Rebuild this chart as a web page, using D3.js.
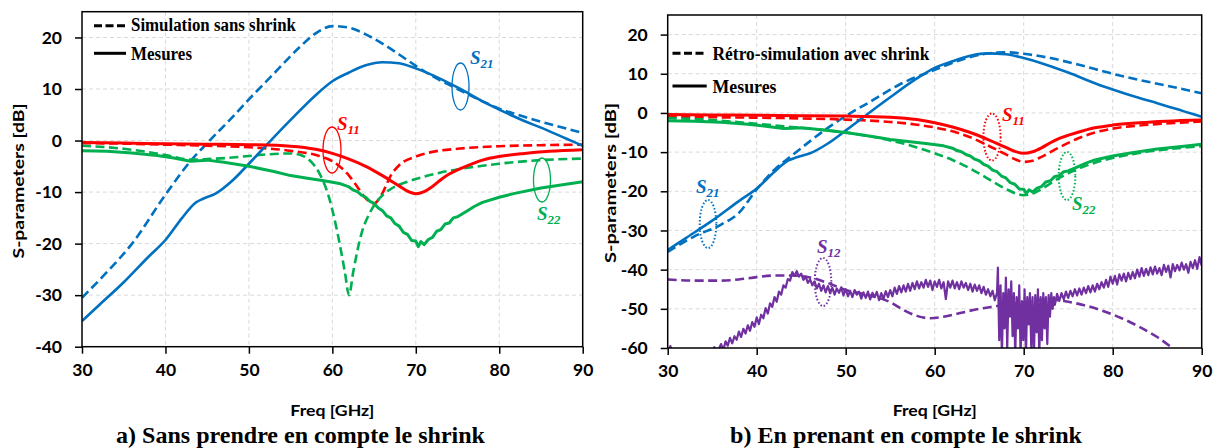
<!DOCTYPE html>
<html>
<head>
<meta charset="utf-8">
<script src="https://cdn.jsdelivr.net/npm/d3@7"></script>
<style>
  html, body { margin: 0; padding: 0; background: #fff; }
  svg { display: block; }
</style>
</head>
<body>
<svg id="chart" width="1217" height="448"></svg>
<script>
// ---------- DATA ----------
const xTicks = [30, 40, 50, 60, 70, 80, 90];
const yTicksA = [-40, -30, -20, -10, 0, 10, 20];
const yTicksB = [-60, -50, -40, -30, -20, -10, 0, 10, 20];

// Measured (shared by both panels)
const s21Meas = [[30,-35],[32,-32],[35,-27.5],[38,-22.5],[40,-19.3],[42,-15],[43.5,-12.2],[44.5,-11.3],[46,-10.3],[48,-7.8],[50,-4.5],[52.5,-0.2],[55,4],[58,8.8],[60,11.5],[62,13.2],[64,14.6],[66,15.2],[68,15],[70,14],[72,12.7],[75,10.3],[78,7.6],[80,6],[83,3.8],[85,2.5],[88,0.4],[90,-1]];
const s11Meas = [[30,-0.4],[35,-0.5],[40,-0.6],[45,-0.7],[50,-0.8],[55,-1.1],[58,-1.7],[60,-2.5],[62,-3.6],[64,-5],[66,-6.8],[68,-8.8],[69,-9.8],[70,-10.3],[71,-9.9],[72,-8.9],[73,-7.6],[74,-6.5],[76,-5],[78,-3.8],[80,-3.1],[83,-2.5],[86,-2.1],[90,-1.8]];
const s22Meas = [[30,-2],[33,-2.1],[36,-2.4],[39,-2.9],[41,-3.4],[43,-4],[44,-3.9],[45,-3.8],[47,-4.2],[50,-5],[53,-6],[55,-6.8],[57,-7.3],[59,-7.8],[61,-8.4],[62,-9],[62.5,-9.6],[63,-9.9],[63.5,-10.6],[64,-11],[64.5,-11.8],[65,-12.2],[65.5,-13.1],[66,-13.6],[66.5,-14.6],[67,-15],[67.5,-16.1],[68,-16.6],[68.5,-17.8],[69,-18.2],[69.5,-19.4],[70,-19.5],[70.3,-20.6],[70.6,-19.6],[71,-20.2],[71.5,-19.2],[72,-18.8],[72.5,-17.6],[73,-17.3],[73.5,-16.2],[74,-16],[74.5,-15],[75,-14.8],[76,-13.8],[77,-12.8],[78,-12],[80,-11],[82,-10.2],[85,-9.2],[88,-8.5],[90,-8]];
const s12Meas = [[30,-62],[30.3,-59.5],[30.6,-62],[31,-63],[32,-64],[33,-63],[34,-62],[34.5,-60.5],
[35,-61.5],[35.25,-59.8],[35.5,-61],[35.75,-60.2],[36,-59],[36.25,-60.6],[36.5,-58.3],[36.75,-59.4],[37,-57.4],[37.25,-58.8],[37.5,-57],[37.75,-57.9],[38,-55.8],[38.25,-57.2],[38.5,-55.1],[38.75,-56.3],[39,-54.2],[39.25,-55.6],[39.5,-53.4],[39.75,-54.6],[40,-52.2],[40.25,-53.9],[40.5,-51.5],[40.75,-52.4],[41,-49.8],[41.25,-51.2],[41.5,-48.6],[41.75,-49.5],[42,-47],[42.25,-48.2],[42.5,-45.6],[42.75,-46.4],[43,-44],[43.25,-44.6],[43.5,-42.4],[43.75,-42.8],[44,-40.6],[44.25,-41.6],[44.5,-40.4],[44.75,-41.8],[45,-41],[45.25,-42.6],[45.5,-41.8],[45.75,-43.4],[46,-42.5],[46.25,-44],[46.5,-43],[46.75,-44.8],[47,-43.6],[47.25,-45.4],[47.5,-44],[47.75,-45.8],[48,-44.2],[48.25,-46],[48.5,-44.6],[48.75,-46.4],[49,-44.8],[49.25,-45.9],[49.5,-44.5],[49.75,-46.6],[50,-45],[50.25,-46.8],[50.5,-45.4],[50.75,-47],[51,-45.2],[51.25,-46.4],[51.5,-45.6],[51.75,-47.4],[52,-45.8],[52.25,-47.2],[52.5,-45.6],[52.75,-47.6],[53,-45.9],[53.25,-47],[53.5,-45.7],[53.75,-47.8],[54,-46],[54.25,-47.4],[54.5,-45.5],[54.75,-47],[55,-45.2],[55.25,-46.8],[55.5,-44.6],[55.75,-46.2],[56,-44.2],[56.25,-45.8],[56.5,-44],[56.75,-45.6],[57,-43.6],[57.25,-45.4],[57.5,-43.4],[57.75,-45],[58,-43],[58.25,-44.8],[58.5,-43.2],[58.75,-44.6],[59,-42.6],[59.25,-44.4],[59.5,-42.8],[59.75,-45.2],[60,-43],[60.25,-44.4],[60.5,-42.6],[60.75,-44.8],[61,-43.2],[61.25,-47.5],[61.5,-43],[61.75,-44.6],[62,-42.8],[62.25,-44.8],[62.5,-43.2],[62.75,-45],[63,-43],[63.25,-44.6],[63.5,-43.4],[63.75,-45.2],[64,-43.6],[64.25,-45.6],[64.5,-43.8],[64.75,-45.4],[65,-44],[65.25,-46],[65.5,-44.4],[65.75,-46.4],[66,-45],[66.25,-46.8],[66.5,-45.4],[66.75,-47.8],[67,-46],
[67.1,-39.5],[67.25,-58],[67.4,-44],[67.55,-62],[67.7,-46],[67.85,-55],[68,-42],[68.15,-60],[68.3,-45],[68.45,-52],[68.6,-43],[68.75,-57],[68.9,-46],[69.05,-62],[69.2,-47],[69.35,-55],[69.5,-44],[69.65,-62],[69.8,-48],[69.95,-58],[70.1,-45],[70.25,-62],[70.4,-47],[70.55,-54],[70.7,-46],[70.85,-60],[71,-47],[71.15,-62],[71.3,-46.5],[71.45,-56],[71.6,-45],[71.75,-62],[71.9,-47],[72.05,-58],[72.2,-46],[72.35,-55],[72.5,-47],[72.65,-59],[72.8,-46.5],[72.95,-52],[73.1,-46],[73.25,-50],[73.4,-47],[73.5,-49],
[73.75,-46.2],[74,-48],[74.25,-46],[74.5,-47.6],[74.75,-45.6],[75,-47.2],[75.25,-45.4],[75.5,-46.8],[75.75,-45],[76,-46.6],[76.25,-44.8],[76.5,-46.4],[76.75,-44.6],[77,-46],[77.25,-44.2],[77.5,-45.8],[77.75,-44],[78,-45.6],[78.25,-43.6],[78.5,-45],[78.75,-43.2],[79,-44.6],[79.25,-42.6],[79.5,-44.4],[79.75,-41.8],[80,-43.6],[80.25,-41.6],[80.5,-43.8],[80.75,-41.2],[81,-42.8],[81.25,-41],[81.5,-43],[81.75,-40.8],[82,-42.4],[82.25,-40.6],[82.5,-42.2],[82.75,-40],[83,-41.8],[83.25,-39.6],[83.5,-41.6],[83.75,-39.8],[84,-41.4],[84.25,-39.4],[84.5,-41.2],[84.75,-39.2],[85,-41],[85.25,-39.6],[85.5,-41.4],[85.75,-38.8],[86,-40.6],[86.25,-39],[86.5,-42],[86.75,-38.6],[87,-40.4],[87.25,-38.8],[87.5,-40.2],[87.75,-38.2],[88,-40],[88.25,-38.6],[88.5,-40.8],[88.75,-38],[89,-39.6],[89.25,-37.6],[89.5,-39.8],[89.75,-36.8],[90,-39]];

// Panel a) simulation without shrink
const s21SimA = [[30,-30.5],[33,-25.5],[36,-20],[40,-10.5],[43,-4],[45,-0.5],[48,4.5],[50,8],[53,13],[56,18],[58,20.8],[60,22.2],[62,21.9],[64,20.6],[66,18.8],[68,16.7],[70,14.5],[72,12.5],[75,10],[78,7.6],[80,6.2],[83,4.6],[86,3.2],[90,1.5]];
const s11SimA = [[30,-0.5],[35,-0.6],[40,-0.8],[45,-1],[50,-1.3],[55,-2],[58,-2.8],[60,-4],[62,-6.8],[63,-9],[64,-11.2],[65,-12.2],[66,-10.2],[67,-6.8],[68,-4.8],[70,-3.1],[72,-2.2],[75,-1.6],[80,-1.1],[85,-0.9],[90,-0.8]];
const s22SimA = [[30,-1],[35,-1.6],[40,-2.8],[43,-3.7],[45,-3.6],[48,-3.3],[50,-3],[53,-2.6],[55,-2.5],[56.5,-3],[57.5,-4.2],[58.5,-6.5],[59.5,-10.5],[60.5,-17],[61.5,-25.5],[62,-30],[62.5,-25.5],[63.5,-18],[64.5,-14],[65.5,-11.5],[67,-9.4],[69,-8],[71,-7],[73,-6.2],[75,-5.6],[78,-4.9],[80,-4.5],[85,-3.8],[90,-3.5]];

// Panel b) retro-simulation with shrink
const s21SimB = [[30,-35.5],[33,-31.5],[36,-28.5],[38,-25.5],[40,-19.5],[42,-14.5],[44,-10.8],[46,-7.2],[48,-3.8],[50,-0.8],[53,3.2],[56,7.2],[60,11],[63,13.6],[66,15.2],[68,15.5],[70,15.1],[73,14],[76,12.4],[80,10],[83,8.4],[86,7],[90,5]];
const s11SimB = [[30,-1],[35,-1.1],[40,-1.2],[45,-1.4],[50,-1.7],[55,-2.3],[58,-3],[60,-3.7],[62,-4.7],[64,-6.2],[66,-8.3],[68,-10.6],[69,-11.8],[70,-12.5],[71,-12.2],[72,-11.2],[74,-8.8],[76,-6.6],[78,-5],[80,-4],[83,-3.2],[86,-2.7],[90,-2.2]];
const s22SimB = [[30,-1.3],[35,-1.8],[40,-2.8],[45,-3.8],[50,-5],[55,-7],[58,-8.8],[60,-10.3],[62,-12],[64,-14.2],[66,-16.8],[68,-19.4],[70,-21],[71,-20.6],[72,-19.4],[74,-16.6],[76,-14.4],[78,-12.7],[80,-11.5],[83,-10.2],[86,-9.3],[90,-8.5]];
const s12SimB = [[30,-42.5],[33,-42.8],[36,-42.8],[38,-42.5],[40,-41.9],[42,-41.5],[44,-41.5],[46,-42],[48,-43.4],[50,-45.2],[52,-46.2],[54,-47.4],[55,-48.3],[56.5,-50.3],[58,-51.8],[59.5,-52.4],[61,-52],[63,-51],[65,-50],[67,-49.3],[69,-48.6],[71,-48],[73,-47.6],[75,-48.2],[77,-49.2],[79,-50.6],[81,-52.4],[83,-54.6],[85,-57.2],[87,-60.5],[88.5,-63],[90,-65.5]];

// ---------- DRAW ----------
const COL = { blue: "#0070C0", red: "#FF0000", green: "#00B050", purple: "#7030A0" };
const svg = d3.select("#chart");
svg.append("rect").attr("width", 1217).attr("height", 448).attr("fill", "#fff");

const TICK_FONT = "Lato, 'Open Sans', sans-serif";
const SERIF = "'Liberation Serif', 'DejaVu Serif', serif";
const fmt = d => String(d);

function drawPanel(cfg) {
  const x = d3.scaleLinear().domain([30, 90]).range([cfg.left, cfg.right]);
  const y = d3.scaleLinear().domain(cfg.yDomain).range([cfg.bottom, cfg.top]);
  const g = svg.append("g");

  // grid
  g.append("g").selectAll("line").data(xTicks.slice(1, -1)).join("line")
    .attr("x1", d => x(d)).attr("x2", d => x(d))
    .attr("y1", cfg.top).attr("y2", cfg.bottom)
    .attr("stroke", "#d9d9d9").attr("stroke-width", 1).attr("stroke-dasharray", "4,3");
  g.append("g").selectAll("line").data(cfg.yTicks.slice(1)).join("line")
    .attr("x1", cfg.left).attr("x2", cfg.right)
    .attr("y1", d => y(d)).attr("y2", d => y(d))
    .attr("stroke", "#d9d9d9").attr("stroke-width", 1).attr("stroke-dasharray", "4,3");

  // axes
  const xa = g.append("g").attr("transform", `translate(0,${cfg.bottom})`)
    .call(d3.axisBottom(x).tickValues(xTicks).tickSize(7).tickPadding(10).tickFormat(fmt));
  const ya = g.append("g").attr("transform", `translate(${cfg.left},0)`)
    .call(d3.axisLeft(y).tickValues(cfg.yTicks).tickSize(7).tickPadding(13).tickFormat(fmt));
  [xa, ya].forEach(a => {
    a.select(".domain").remove();
    a.selectAll(".tick line").attr("stroke", "#000").attr("stroke-width", 1.5);
    a.selectAll(".tick text").attr("font-family", TICK_FONT).attr("font-weight", "bold")
      .attr("font-size", 17.5).attr("fill", "#000");
  });

  // clip
  const cid = "clip" + cfg.id;
  svg.append("defs").append("clipPath").attr("id", cid).append("rect")
    .attr("x", cfg.left).attr("y", cfg.top).attr("width", cfg.right - cfg.left).attr("height", cfg.bottom - cfg.top);
  const plot = g.append("g").attr("clip-path", `url(#${cid})`);

  const smooth = d3.line().x(d => x(d[0])).y(d => y(d[1])).curve(d3.curveMonotoneX);
  const straight = d3.line().x(d => x(d[0])).y(d => y(d[1]));

  cfg.series.forEach(s => {
    plot.append("path").datum(s.data)
      .attr("d", s.noisy ? straight : smooth)
      .attr("fill", "none").attr("stroke", s.color)
      .attr("stroke-width", s.width || 2.6)
      .attr("stroke-linejoin", "round")
      .attr("stroke-dasharray", s.dashed ? "9,4.5" : null);
  });

  // border
  g.append("rect").attr("x", cfg.left).attr("y", cfg.top)
    .attr("width", cfg.right - cfg.left).attr("height", cfg.bottom - cfg.top)
    .attr("fill", "none").attr("stroke", "#000").attr("stroke-width", 1.5);

  // legend
  const lg = g.append("g");
  cfg.legend.forEach(l => {
    lg.append("line").attr("x1", l.x1).attr("x2", l.x2).attr("y1", l.ly).attr("y2", l.ly)
      .attr("stroke", "#000").attr("stroke-width", 3).attr("stroke-dasharray", l.dashed ? "8,3.5" : null);
    lg.append("text").attr("x", l.tx).attr("y", l.ty).text(l.label)
      .attr("font-family", SERIF).attr("font-weight", "bold").attr("font-size", 18)
      .attr("textLength", l.len).attr("lengthAdjust", "spacingAndGlyphs").attr("fill", "#000");
  });

  // annotations
  cfg.notes.forEach(n => {
    g.append("ellipse").attr("cx", n.cx).attr("cy", n.cy).attr("rx", n.rx).attr("ry", n.ry)
      .attr("fill", "none").attr("stroke", n.color).attr("stroke-width", n.dotted ? 2 : 1.3)
      .attr("stroke-dasharray", n.dotted ? "1.5,2" : null);
    const t = g.append("text").attr("x", n.tx).attr("y", n.ty).attr("fill", n.color)
      .attr("font-family", SERIF).attr("font-weight", "bold").attr("font-style", "italic").attr("font-size", 19);
    t.append("tspan").text("S");
    t.append("tspan").text(n.sub).attr("font-size", 13).attr("dy", 4);
  });

  // axis titles
  g.append("text").attr("x", (cfg.left + cfg.right) / 2).attr("y", 416).attr("text-anchor", "middle")
    .text("Freq [GHz]").attr("font-family", TICK_FONT).attr("font-weight", "bold").attr("font-size", 15.5)
    .attr("textLength", 84).attr("lengthAdjust", "spacingAndGlyphs");
  g.append("text").attr("transform", `translate(${cfg.ytX},${cfg.ytY}) rotate(-90)`).attr("text-anchor", "middle")
    .text("S-parameters [dB]").attr("font-family", TICK_FONT).attr("font-weight", "bold").attr("font-size", 16)
    .attr("textLength", cfg.ytLen).attr("lengthAdjust", "spacingAndGlyphs");

  // caption
  g.append("text").attr("x", cfg.capX).attr("y", 443).attr("text-anchor", "middle")
    .text(cfg.caption).attr("font-family", SERIF).attr("font-weight", "bold").attr("font-size", 24)
    .attr("textLength", cfg.capLen).attr("lengthAdjust", "spacingAndGlyphs");
}

drawPanel({
  id: "a", left: 82, right: 582.7, top: 11.7, bottom: 346.7, yDomain: [-40, 25], yTicks: yTicksA,
  series: [
    { data: s21SimA, color: COL.blue, dashed: true },
    { data: s11SimA, color: COL.red, dashed: true },
    { data: s22SimA, color: COL.green, dashed: true },
    { data: s21Meas, color: COL.blue },
    { data: s22Meas, color: COL.green, noisy: true, width: 3 },
    { data: s11Meas, color: COL.red, width: 3 }
  ],
  legend: [
    { x1: 94, x2: 126, ly: 25.7, tx: 131, ty: 31, label: "Simulation sans shrink", dashed: true, len: 165 },
    { x1: 94, x2: 126, ly: 53.3, tx: 131, ty: 60, label: "Mesures", dashed: false, len: 61 }
  ],
  notes: [
    { cx: 460.5, cy: 86.5, rx: 8.5, ry: 23.5, tx: 470, ty: 64, sub: "21", color: COL.blue },
    { cx: 332, cy: 150, rx: 9, ry: 23, tx: 337, ty: 130, sub: "11", color: COL.red },
    { cx: 542, cy: 180, rx: 8.5, ry: 22, tx: 537, ty: 220, sub: "22", color: COL.green }
  ],
  ytX: 24, ytY: 181, ytLen: 155,
  caption: "a) Sans prendre en compte le shrink", capX: 300.5, capLen: 369
});

drawPanel({
  id: "b", left: 667.7, right: 1201.7, top: 15, bottom: 348, yDomain: [-60, 25], yTicks: yTicksB,
  series: [
    { data: s21SimB, color: COL.blue, dashed: true },
    { data: s11SimB, color: COL.red, dashed: true },
    { data: s22SimB, color: COL.green, dashed: true },
    { data: s12SimB, color: COL.purple, dashed: true },
    { data: s12Meas, color: COL.purple, noisy: true, width: 2.2 },
    { data: s21Meas, color: COL.blue },
    { data: s22Meas, color: COL.green, noisy: true, width: 3 },
    { data: s11Meas, color: COL.red, width: 3 }
  ],
  legend: [
    { x1: 672.5, x2: 706.7, ly: 53.3, tx: 712.5, ty: 60, label: "Rétro-simulation avec shrink", dashed: true, len: 217 },
    { x1: 672.5, x2: 706.7, ly: 86, tx: 712.5, ty: 93, label: "Mesures", dashed: false, len: 64 }
  ],
  notes: [
    { cx: 992, cy: 137, rx: 8.6, ry: 23.5, tx: 1002, ty: 121, sub: "11", color: COL.red, dotted: true },
    { cx: 1067, cy: 176, rx: 8.3, ry: 24, tx: 1072, ty: 210, sub: "22", color: COL.green, dotted: true },
    { cx: 708, cy: 224, rx: 8.3, ry: 24, tx: 696, ty: 193, sub: "21", color: COL.blue, dotted: true },
    { cx: 823, cy: 282, rx: 8.3, ry: 24, tx: 817, ty: 253, sub: "12", color: COL.purple, dotted: true }
  ],
  ytX: 616, ytY: 183, ytLen: 160,
  caption: "b) En prenant en compte le shrink", capX: 906, capLen: 352
});
</script>
</body>
</html>
